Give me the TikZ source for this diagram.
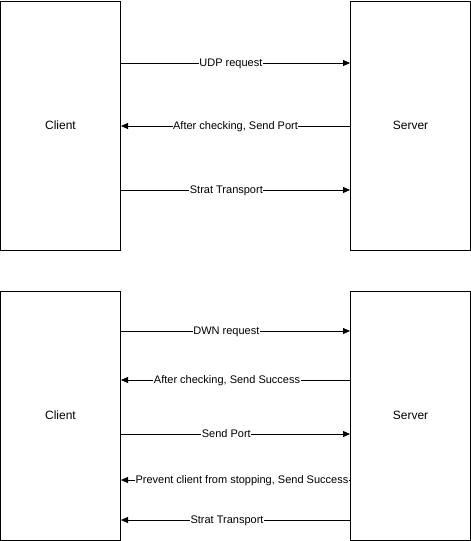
\documentclass[tikz,border=0pt]{standalone}
\usepackage{fontspec}
\setmainfont{Liberation Sans}
\usetikzlibrary{arrows.meta}

\tikzset{
  party/.style={draw, line width=1pt, minimum width=120pt, minimum height=249pt,
    inner sep=0pt, font=\fontsize{12}{14}\selectfont},
  msg/.style={line width=0.8pt, -{Stealth[length=7pt, width=6pt, inset=0pt]}},
  msglabel/.style={fill=white, inner sep=0.5pt, anchor=mid, yshift=-1.2pt,
    font=\fontsize{11}{13}\selectfont}
}

\begin{document}
\begin{tikzpicture}[x=1pt, y=-1pt]
\useasboundingbox (0,0) rectangle (471,541);

% UDP exchange
\node[party] (client1) at (60.5,125.5) {Client};
\node[party] (server1) at (410.5,125.5) {Server};

\draw[msg] (client1.east |- 0,63) -- (server1.west |- 0,63)
  node[pos=0.48, msglabel] {UDP request};
\draw[msg] (server1.west |- 0,126) -- (client1.east |- 0,126)
  node[pos=0.5, msglabel] {After checking, Send Port};
\draw[msg] (client1.east |- 0,190) -- (server1.west |- 0,190)
  node[pos=0.46, msglabel] {Strat Transport};

% DWN exchange
\node[party] (client2) at (60.5,415.5) {Client};
\node[party] (server2) at (410.5,415.5) {Server};

\draw[msg] (client2.east |- 0,331) -- (server2.west |- 0,331)
  node[pos=0.46, msglabel] {DWN request};
\draw[msg] (server2.west |- 0,380) -- (client2.east |- 0,380)
  node[pos=0.537, msglabel] {After checking, Send Success};
\draw[msg] (client2.east |- 0,434) -- (server2.west |- 0,434)
  node[pos=0.46, msglabel] {Send Port};
\draw[msg] (server2.west |- 0,480) -- (client2.east |- 0,480)
  node[pos=0.472, msglabel] {Prevent client from stopping, Send Success};
\draw[msg] (server2.west |- 0,520) -- (client2.east |- 0,520)
  node[pos=0.537, msglabel] {Strat Transport};

\end{tikzpicture}
\end{document}
